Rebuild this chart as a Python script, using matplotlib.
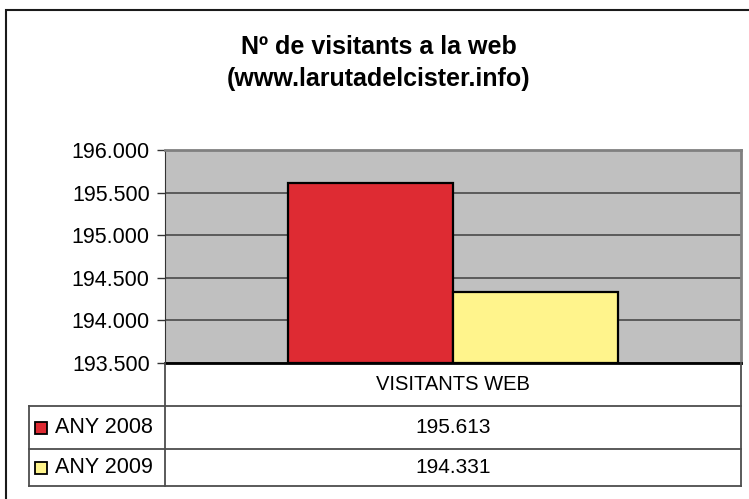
import matplotlib
matplotlib.use("Agg")
import matplotlib.pyplot as plt
from matplotlib.patches import Rectangle
from matplotlib.lines import Line2D
from matplotlib.ticker import FuncFormatter

plt.rcParams['font.family'] = ['Liberation Sans', 'DejaVu Sans']

# dades
title = "Nº de visitants a la web\n(www.larutadelcister.info)"
category = "VISITANTS WEB"
series = ["ANY 2008", "ANY 2009"]
values = [195613, 194331]
colors = ["#DE2B33", "#FFF48C"]
y_min, y_max, y_step = 193500, 196000, 500

W, H = 749, 499
fig = plt.figure(figsize=(W / 100, H / 100), dpi=100)


def fx(x):
    return x / W


def fy(y):
    return 1 - y / H


# marc exterior del grafic
fig.patches.append(Rectangle((fx(6), fy(600)), fx(800), fy(10) - fy(600),
                             transform=fig.transFigure, fill=False,
                             edgecolor="#1a1a1a", linewidth=1.5))

fig.text(fx(379), fy(63), title, ha="center", va="center",
         fontsize=18, fontweight="bold", linespacing=1.38)

# zona del grafic
L, T, R, B = 165, 150, 741, 363
ax = fig.add_axes([fx(L), fy(B), fx(R - L), fy(T) - fy(B)])
ax.set_facecolor("#C0C0C0")

w = 1 / 3.5
for i, (s, v) in enumerate(zip(series, values)):
    x = (i - 0.5) * w
    ax.bar(x, v - y_min, bottom=y_min, width=w, color=colors[i],
           edgecolor="black", linewidth=1.6, zorder=3)

ax.set_xlim(-0.5, 0.5)
ax.set_ylim(y_min, y_max)
ax.set_yticks(range(y_min, y_max + 1, y_step))
ax.yaxis.set_major_formatter(FuncFormatter(lambda v, p: f"{int(v):,}".replace(",", ".")))
ax.tick_params(axis="y", labelsize=15.5, length=6, width=1, color="#333333", pad=5)
ax.set_xticks([])
ax.grid(axis="y", color="#4a4a4a", linewidth=1.2, zorder=1)
ax.spines["left"].set_color("#333333")
ax.spines["bottom"].set_color("black")
ax.spines["bottom"].set_linewidth(2)
ax.spines["top"].set_color("#808080")
ax.spines["top"].set_linewidth(2)
ax.spines["right"].set_color("#808080")
ax.spines["right"].set_linewidth(2)

# taula de dades
row_h = [363, 406, 449, 486]
lc = "#4d4d4d"


def line(x0, y0, x1, y1):
    fig.lines.append(Line2D([fx(x0), fx(x1)], [fy(y0), fy(y1)],
                            transform=fig.transFigure, color=lc, linewidth=1.3))


line(L, row_h[0], L, row_h[3])
line(R, row_h[0], R, row_h[3])
line(29, row_h[1], 29, row_h[3])
for y in row_h[1:]:
    line(29, y, R, y)

cx = (L + R) / 2
fig.text(fx(cx), fy((row_h[0] + row_h[1]) / 2), category, ha="center",
         va="center", fontsize=14.5)
for i, (s, v) in enumerate(zip(series, values)):
    yc = (row_h[i + 1] + row_h[i + 2]) / 2
    fig.patches.append(Rectangle((fx(35), fy(yc + 6)), fx(12), fy(yc - 6) - fy(yc + 6),
                                 transform=fig.transFigure, facecolor=colors[i],
                                 edgecolor="black", linewidth=1.3))
    fig.text(fx(55), fy(yc), s, ha="left", va="center", fontsize=15.5)
    fig.text(fx(cx), fy(yc), f"{v:,}".replace(",", "."), ha="center",
             va="center", fontsize=15)

fig.savefig("out.png", dpi=100)
